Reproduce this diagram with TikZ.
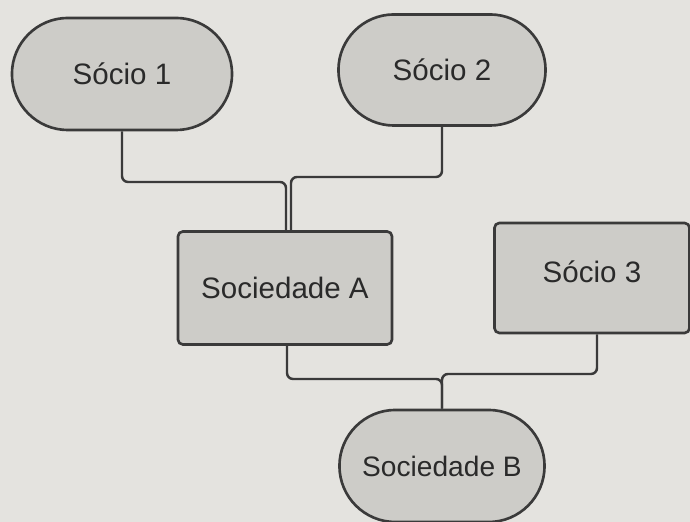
\documentclass[tikz,border=0pt]{standalone}
\usepackage{fontspec}
\setmainfont{Liberation Sans}
\usetikzlibrary{shapes.misc}
\definecolor{bgc}{HTML}{E4E3DF}
\definecolor{fillc}{HTML}{CDCCC8}
\definecolor{linec}{HTML}{3A3A3A}
\definecolor{textc}{HTML}{2A2A2A}
\begin{document}
\begin{tikzpicture}[x=0.01cm,y=-0.01cm,
  box/.style={draw=linec, fill=fillc, line width=0.75pt, text=textc, inner sep=0pt,
    font=\fontsize{8.4}{10}\selectfont},
  pill/.style={box, rounded rectangle},
  rectbox/.style={box, rectangle, rounded corners=0.05cm},
  conn/.style={draw=linec, line width=0.7pt, rounded corners=0.06cm}]
\useasboundingbox (0,0) rectangle (690,522);
\clip (0,0) rectangle (690,522);
\fill[bgc] (0,0) rectangle (690,522);

\node[pill, minimum width=2.2cm, minimum height=1.12cm] (s1) at (122,74) {Sócio 1};
\node[pill, minimum width=2.07cm, minimum height=1.11cm] (s2) at (442,70) {Sócio 2};
\node[rectbox, minimum width=2.14cm, minimum height=1.13cm] (sa) at (285,288) {Sociedade A};
\node[rectbox, minimum width=1.95cm, minimum height=1.10cm, text depth=0.12cm] (s3) at (592,278) {Sócio 3};
\node[pill, minimum width=2.05cm, minimum height=1.12cm, font=\fontsize{8}{10}\selectfont] (sb) at (442,466) {Sociedade B};

\coordinate (j1) at (286,182);
\coordinate (j2) at (291,177);
\coordinate (j3) at (442,379);
\coordinate (j4) at (442,374);

\draw[conn] (s1.south) |- (j1) -- (j1 |- sa.north);
\draw[conn] (s2.south) |- (j2) -- (j2 |- sa.north);
\draw[conn] ([xshift=0.02cm]sa.south) |- (j3) -- (j3 |- sb.north);
\draw[conn] ([xshift=0.05cm]s3.south) |- (j4) -- (j4 |- sb.north);
\end{tikzpicture}
\end{document}
